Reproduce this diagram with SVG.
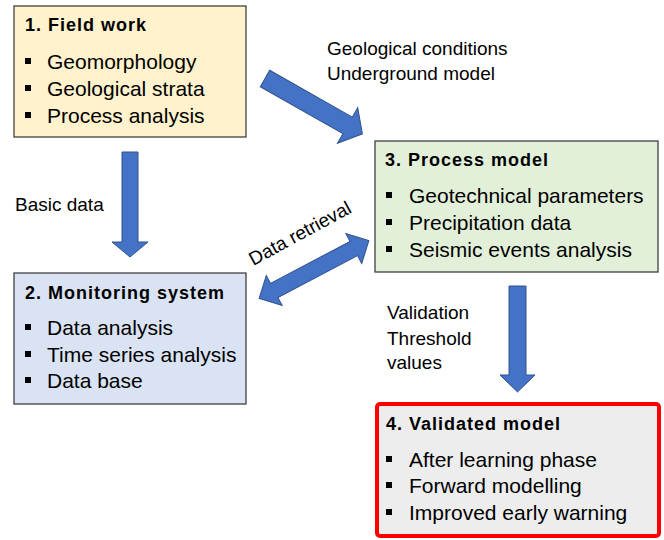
<svg xmlns="http://www.w3.org/2000/svg" width="664" height="540" viewBox="0 0 664 540">
  <defs>
    <style>
      .box { stroke: #404040; stroke-width: 1.3; }
      .title { font-family: "Liberation Sans", Arial, sans-serif; font-weight: bold; font-size: 18px; letter-spacing: 1px; fill: #000; }
      .item { font-family: "Liberation Sans", Arial, sans-serif; font-size: 21px; fill: #000; }
      .label { font-family: "Liberation Sans", Arial, sans-serif; font-size: 19px; fill: #000; }
      .bullet { fill: #000; }
      .arrow { fill: #4472C4; stroke: #2F528F; stroke-width: 1; }
    </style>
  </defs>
  <rect width="664" height="540" fill="#ffffff"/>

  <!-- 1. Field work -->
  <g id="field-work">
    <rect class="box" x="14" y="6" width="232" height="131" fill="#FFF2CC"/>
    <text class="title" x="25" y="31">1. Field work</text>
    <rect class="bullet" x="25" y="58" width="6" height="6"/>
    <text class="item" x="47" y="69">Geomorphology</text>
    <rect class="bullet" x="25" y="85" width="6" height="6"/>
    <text class="item" x="47" y="96">Geological strata</text>
    <rect class="bullet" x="25" y="112" width="6" height="6"/>
    <text class="item" x="47" y="123">Process analysis</text>
  </g>

  <!-- 2. Monitoring system -->
  <g id="monitoring-system">
    <rect class="box" x="14" y="273" width="232" height="131" fill="#DAE3F3"/>
    <text class="title" x="25" y="299">2. Monitoring system</text>
    <rect class="bullet" x="25" y="324" width="6" height="6"/>
    <text class="item" x="47" y="335">Data analysis</text>
    <rect class="bullet" x="25" y="351" width="6" height="6"/>
    <text class="item" x="47" y="362">Time series analysis</text>
    <rect class="bullet" x="25" y="377" width="6" height="6"/>
    <text class="item" x="47" y="388">Data base</text>
  </g>

  <!-- 3. Process model -->
  <g id="process-model">
    <rect class="box" x="375" y="141" width="283" height="131" fill="#E2F0D9"/>
    <text class="title" x="385" y="166">3. Process model</text>
    <rect class="bullet" x="386" y="192" width="6" height="6"/>
    <text class="item" x="409" y="203">Geotechnical parameters</text>
    <rect class="bullet" x="386" y="219" width="6" height="6"/>
    <text class="item" x="409" y="230">Precipitation data</text>
    <rect class="bullet" x="386" y="246" width="6" height="6"/>
    <text class="item" x="409" y="257">Seismic events analysis</text>
  </g>

  <!-- 4. Validated model -->
  <g id="validated-model">
    <rect x="377" y="404" width="282" height="132" rx="3" fill="#EDEDED" stroke="#FF0000" stroke-width="4"/>
    <text class="title" x="386" y="430">4. Validated model</text>
    <rect class="bullet" x="386" y="456" width="6" height="6"/>
    <text class="item" x="409" y="467">After learning phase</text>
    <rect class="bullet" x="386" y="482" width="6" height="6"/>
    <text class="item" x="409" y="493">Forward modelling</text>
    <rect class="bullet" x="386" y="509" width="6" height="6"/>
    <text class="item" x="409" y="520">Improved early warning</text>
  </g>

  <!-- block arrows between the stages -->
  <g id="connectors">
    <path class="arrow" d="M122,152 H138 V242 H148 L130,257 L112,242 H122 Z"/>
    <path class="arrow" transform="translate(265,78.5) rotate(29.6)" d="M0,-9.5 H95 V-20.5 L112,0 L95,20.5 V9.5 H0 Z"/>
    <path class="arrow" transform="translate(314,269.5) rotate(-27.8)" d="M-62,0 L-45,-17 V-8 H45 V-17 L62,0 L45,17 V8 H-45 V17 Z"/>
    <path class="arrow" d="M509,286 H526 V375 H535 L517.5,392 L500,375 H509 Z"/>
  </g>

  <!-- connector labels -->
  <g id="labels">
    <text class="label" x="327" y="55">Geological conditions</text>
    <text class="label" x="327" y="80">Underground model</text>
    <text class="label" x="15" y="211">Basic data</text>
    <text class="label" transform="translate(303,239) rotate(-28.5)" text-anchor="middle">Data retrieval</text>
    <text class="label" x="387" y="319">Validation</text>
    <text class="label" x="387" y="345">Threshold</text>
    <text class="label" x="387" y="369">values</text>
  </g>
</svg>
